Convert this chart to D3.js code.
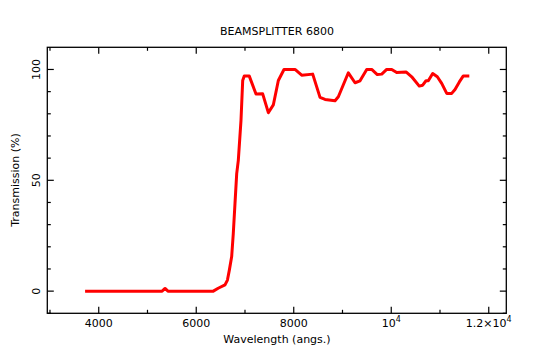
<!DOCTYPE html>
<html><head><meta charset="utf-8">
<script src="https://cdn.jsdelivr.net/npm/d3@7"></script>
<style>body{margin:0;background:#fff}svg{display:block}text{font-family:"DejaVu Sans",sans-serif;fill:#000}</style>
</head><body><svg id="c" width="555" height="360"></svg>
<script>
const title = "BEAMSPLITTER 6800";
const xLabel = "Wavelength (angs.)";
const yLabel = "Transmission (%)";
const wavelength = [3720,4000,4500,5000,5300,5360,5420,5600,6000,6350,6450,6590,6640,6680,6727,6760,6795,6830,6863,6918,6953,6985,7088,7226,7363,7479,7581,7684,7800,8026,8163,8389,8539,8642,8847,8915,9120,9257,9360,9497,9599,9714,9805,9907,10010,10112,10303,10420,10575,10645,10713,10760,10850,10945,11035,11138,11240,11308,11397,11478,11601];
const transmission = [0,0,0,0,0,1.2,0,0,0,0,1.3,2.8,5,9.6,15.6,26,39.6,53,59,77,95,97,97,88.9,89,80.5,84,95,100,100,97.4,97.9,87.4,86.5,85.9,87.7,98.5,94,94.9,100,100,97.7,97.9,100,100,98.6,98.9,96.7,92.5,92.9,94.9,94.9,98.2,96.7,93.7,89.2,89.2,91,94.4,97.1,97.1];
const xMajor = [4000,6000,8000,10000,12000];
const xMinor = [3000,5000,7000,9000,11000];
const yMajor = [0,50,100];
const yMinor = [-10,10,20,30,40,60,70,80,90];

const svg = d3.select("#c");
const L=47.3,R=506.3,T=47.3,B=313.3;
const x = d3.scaleLinear().domain([2945,12360]).range([L,R]);
const y = d3.scaleLinear().domain([-10,110]).range([B,T]);

// curve
svg.append("path").datum(wavelength.map((w,i)=>[w,transmission[i]]))
  .attr("fill","none").attr("stroke","#ff0000").attr("stroke-width",3)
  .attr("stroke-linejoin","round")
  .attr("d",d3.line().x(d=>x(d[0])).y(d=>y(d[1])));

// frame
svg.append("rect").attr("x",L).attr("y",T).attr("width",R-L).attr("height",B-T)
  .attr("fill","none").attr("stroke","#000").attr("stroke-width",1.3);

const g = svg.append("g").attr("stroke","#000").attr("stroke-width",1.2);
function xt(v,len){
  g.append("line").attr("x1",x(v)).attr("x2",x(v)).attr("y1",B).attr("y2",B-len);
  g.append("line").attr("x1",x(v)).attr("x2",x(v)).attr("y1",T).attr("y2",T+len);
}
function yt(v,len){
  g.append("line").attr("y1",y(v)).attr("y2",y(v)).attr("x1",L).attr("x2",L+len);
  g.append("line").attr("y1",y(v)).attr("y2",y(v)).attr("x1",R).attr("x2",R-len);
}
xMajor.forEach(v=>xt(v,6.5)); xMinor.forEach(v=>xt(v,3.5));
yMajor.forEach(v=>yt(v,6.5)); yMinor.forEach(v=>yt(v,3.5));

// x tick labels
const fs = 11;
xMajor.forEach(v=>{
  const t = svg.append("text").attr("x",x(v)).attr("y",327).attr("text-anchor","middle").attr("font-size",fs);
  if(v<10000){ t.text(String(v)); }
  else {
    const m = v/10000;
    t.append("tspan").text(m===1?"10":(m+"\u00d710"));
    t.append("tspan").attr("dy",-5).attr("font-size",8).text("4");
  }
});
// y tick labels
yMajor.forEach(v=>{
  svg.append("text").attr("transform",`translate(40,${y(v)}) rotate(-90)`)
    .attr("text-anchor","middle").attr("font-size",fs).text(String(v));
});
svg.append("text").attr("x",277).attr("y",35).attr("text-anchor","middle").attr("font-size",fs).text(title);
svg.append("text").attr("x",277).attr("y",343).attr("text-anchor","middle").attr("font-size",fs).text(xLabel);
svg.append("text").attr("transform","translate(19,180) rotate(-90)").attr("text-anchor","middle").attr("font-size",fs).text(yLabel);
</script></body></html>
